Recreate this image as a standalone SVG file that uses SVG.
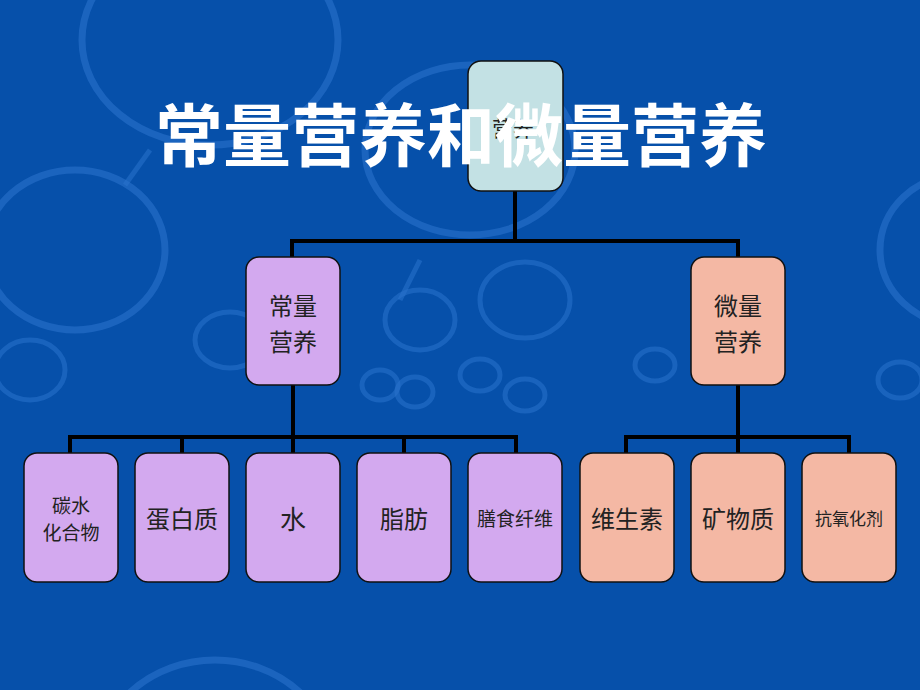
<svg xmlns="http://www.w3.org/2000/svg" width="920" height="690" viewBox="0 0 920 690">
<style>
.bg{fill:#0650aa}
.ring{fill:none;stroke:#2a72cc;stroke-width:7;opacity:0.6}
.ring2{fill:none;stroke:#2a72cc;stroke-width:5;opacity:0.55}
.box{stroke:#111;stroke-width:1.5}
.root{fill:#c3e1e4}
.lav{fill:#d3a9ef}
.sal{fill:#f4b8a4}
.t{font-family:"Noto Sans CJK SC","Noto Sans CJK TC",sans-serif;fill:#222;text-anchor:middle}
.title{font-family:"Noto Sans CJK SC",sans-serif;fill:#fff;font-weight:bold;font-size:68px;text-anchor:middle}
.conn{fill:none;stroke:#000;stroke-width:4}
</style>
<rect class="bg" x="0" y="0" width="920" height="690"/>
<g id="decor">
<ellipse class="ring" cx="210" cy="40" rx="128" ry="105"/>
<ellipse class="ring" cx="75" cy="250" rx="90" ry="80"/>
<ellipse class="ring" cx="470" cy="150" rx="105" ry="85"/>
<ellipse class="ring" cx="960" cy="250" rx="80" ry="75"/>
<ellipse class="ring" cx="215" cy="770" rx="120" ry="110"/>
<ellipse class="ring2" cx="525" cy="300" rx="45" ry="38"/>
<ellipse class="ring2" cx="420" cy="320" rx="35" ry="30"/>
<ellipse class="ring2" cx="230" cy="340" rx="35" ry="28"/>
<ellipse class="ring2" cx="30" cy="370" rx="35" ry="30"/>
<ellipse class="ring2" cx="380" cy="385" rx="18" ry="15"/>
<ellipse class="ring2" cx="415" cy="392" rx="18" ry="15"/>
<ellipse class="ring2" cx="480" cy="375" rx="20" ry="16"/>
<ellipse class="ring2" cx="525" cy="395" rx="20" ry="16"/>
<ellipse class="ring2" cx="655" cy="365" rx="20" ry="16"/>
<ellipse class="ring2" cx="900" cy="380" rx="22" ry="18"/>
<line class="ring2" x1="125" y1="185" x2="150" y2="150"/>
<line class="ring2" x1="400" y1="300" x2="420" y2="260"/>
</g>
<g id="connectors">
<path class="conn" d="M515 191 V241 M292 257 V241 H738 V257"/>
<path class="conn" d="M293 385 V437 M70 453 V437 H516 V453 M182 437 V453 M293 437 V453 M404 437 V453"/>
<path class="conn" d="M738 385 V437 M626 453 V437 H849 V453 M738 437 V453"/>
</g>
<g id="n-root"><rect class="box root" x="468" y="61" width="95" height="130" rx="13"/><text class="t" x="513" y="136" font-size="21">营养</text></g>
<g id="title"><text class="title" x="461" y="161">常量营养和微量营养</text></g>
<g id="n-changliang"><rect class="box lav" x="246" y="257" width="94" height="128" rx="13"/><text class="t" x="293" y="315" font-size="24">常量</text><text class="t" x="293" y="351" font-size="24">营养</text></g>
<g id="n-weiliang"><rect class="box sal" x="691" y="257" width="94" height="128" rx="13"/><text class="t" x="738" y="315" font-size="24">微量</text><text class="t" x="738" y="351" font-size="24">营养</text></g>
<g id="n-tanshui"><rect class="box lav" x="24" y="453" width="94" height="129" rx="13"/><text class="t" x="71" y="513" font-size="19">碳水</text><text class="t" x="71" y="540" font-size="19">化合物</text></g>
<g id="n-danbai"><rect class="box lav" x="135" y="453" width="94" height="129" rx="13"/><text class="t" x="182" y="528" font-size="24">蛋白质</text></g>
<g id="n-shui"><rect class="box lav" x="246" y="453" width="94" height="129" rx="13"/><text class="t" x="293" y="529" font-size="26">水</text></g>
<g id="n-zhifang"><rect class="box lav" x="357" y="453" width="94" height="129" rx="13"/><text class="t" x="404" y="528" font-size="24">脂肪</text></g>
<g id="n-shanshi"><rect class="box lav" x="468" y="453" width="94" height="129" rx="13"/><text class="t" x="515" y="526" font-size="19">膳食纤维</text></g>
<g id="n-weisheng"><rect class="box sal" x="580" y="453" width="94" height="129" rx="13"/><text class="t" x="627" y="528" font-size="24">维生素</text></g>
<g id="n-kuangwu"><rect class="box sal" x="691" y="453" width="94" height="129" rx="13"/><text class="t" x="738" y="528" font-size="24">矿物质</text></g>
<g id="n-kangyang"><rect class="box sal" x="802" y="453" width="94" height="129" rx="13"/><text class="t" x="849" y="525" font-size="17">抗氧化剂</text></g>
</svg>
